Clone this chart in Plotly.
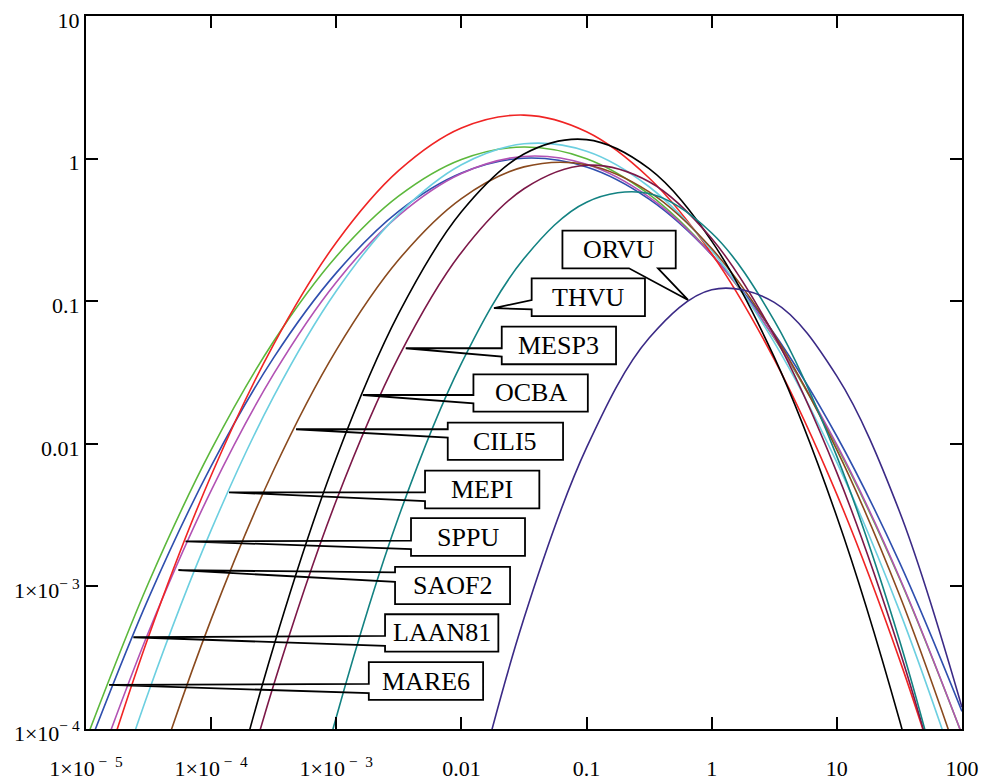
import numpy as np
import plotly.graph_objects as go

# ---------------- data ----------------
x_vals = [1e-5, 3.162e-5, 1e-4, 3.162e-4, 1e-3, 3.162e-3, 1e-2, 3.162e-2,
          0.1, 0.3162, 1, 3.162, 10, 31.62, 100]

sppu   = [2.06e-5, 4.46e-4, 6.0e-3, 0.0499, 0.258, 0.826, 1.64, 2.02,
          1.543, 0.731, 0.215, 0.0391, 4.42e-3, 3.09e-4, 1.34e-5]
mare6  = [8.39e-5, 1.06e-3, 9.06e-3, 0.0524, 0.206, 0.547, 0.986, 1.206,
          0.999, 0.561, 0.213, 0.0551, 9.62e-3, 1.14e-3, 9.16e-5]
mepi   = [8.47e-6, 1.82e-4, 2.48e-3, 0.0215, 0.118, 0.410, 0.906, 1.270,
          1.128, 0.635, 0.227, 0.0515, 7.41e-3, 6.76e-4, 3.91e-5]
laan81 = [6.75e-5, 8.28e-4, 6.97e-3, 0.0402, 0.158, 0.429, 0.794, 1.007,
          0.874, 0.520, 0.212, 0.0592, 0.0113, 1.48e-3, 1.33e-4]
saof2  = [3.25e-5, 4.79e-4, 4.70e-3, 0.0309, 0.136, 0.400, 0.787, 1.036,
          0.912, 0.537, 0.212, 0.0558, 9.86e-3, 1.16e-3, 9.18e-5]
cili5  = [1.14e-6, 3.27e-5, 5.87e-4, 6.55e-3, 0.0454, 0.196, 0.525, 0.875,
          0.907, 0.585, 0.234, 0.0585, 9.06e-3, 8.73e-4, 5.24e-5]
ocba   = [None, 1.06e-7, 9.04e-6, 3.81e-4, 7.96e-3, 0.0824, 0.424, 1.077,
          1.359, 0.850, 0.264, 0.0405, 3.08e-3, 1.16e-4, 2.18e-6]
mesp3  = [None, 7.6e-8, 5.45e-6, 2.04e-4, 4.00e-3, 0.0410, 0.220, 0.615,
          0.899, 0.689, 0.275, 0.0575, 6.28e-3, 3.59e-4, 1.07e-5]
thvu   = [None, None, 1.8e-8, 2.18e-6, 1.21e-4, 3.10e-3, 0.0366, 0.199,
          0.495, 0.569, 0.301, 0.0731, 8.17e-3, 4.21e-4, 9.95e-6]
orvu   = [None, None, None, None, None, 1.24e-7, 1.41e-5, 5.97e-4,
          9.40e-3, 0.0552, 0.1205, 0.0982, 0.0298, 3.37e-3, 1.42e-4]

series_names = ["MARE6", "LAAN81", "SAOF2", "SPPU", "MEPI", "CILI5",
                "OCBA", "MESP3", "THVU", "ORVU"]
series_values = [mare6, laan81, saof2, sppu, mepi, cili5, ocba, mesp3, thvu, orvu]

NB = "\u00a0"
x_tickvals = [1e-5, 1e-4, 1e-3, 0.01, 0.1, 1, 10, 100]
x_ticktext = [f"1×10<sup>{NB}−{NB}{NB}5</sup>", f"1×10<sup>{NB}−{NB}{NB}4</sup>",
              f"1×10<sup>{NB}−{NB}{NB}3</sup>", "0.01", "0.1", "1", "10", "100"]
y_tickvals = [1e-4, 1e-3, 0.01, 0.1, 1, 10]
y_ticktext = [f"1×10<sup>−{NB}4</sup>", f"1×10<sup>−{NB}3</sup>",
              "0.01", "0.1", "1", "10"]

# ---------------- styles ----------------
colors = {
    "MARE6": "#5cb83c", "LAAN81": "#2f4fae", "SAOF2": "#b252b4",
    "SPPU": "#f02424", "MEPI": "#6ccfe0", "CILI5": "#8a4a1e",
    "OCBA": "#000000", "MESP3": "#7c1848", "THVU": "#138282",
    "ORVU": "#3b2a86",
}
FONT = "Liberation Serif, Times New Roman, serif"

# callouts: tip (data), box in pixel offsets from tip (L, R, T, B; y up),
# notch offsets on the box edge facing the tip
callouts = [
    dict(label="ORVU",   x=0.647,   y=0.102,   box=(-125.6, -12.3, 69.3, 31.7), side="bottom", notch=(-59, -30)),
    dict(label="THVU",   x=0.0182,  y=0.0895,  box=(37.7, 151.0, 29.7, -8.0),   side="left", notch=(8.0, -1.3)),
    dict(label="MESP3",  x=3.59e-3, y=0.0468,  box=(96.0, 210.3, 21.6, -16.0),  side="left", notch=(0.0, -8.4)),
    dict(label="OCBA",   x=1.63e-3, y=0.0220,  box=(110.6, 225.0, 20.7, -16.7), side="left", notch=(0.0, -8.3)),
    dict(label="CILI5",  x=4.77e-4, y=0.01265, box=(151.7, 267.0, 6.6, -30.7),  side="left", notch=(0.0, -8.4)),
    dict(label="MEPI",   x=1.39e-4, y=4.57e-3, box=(196.0, 310.3, 21.6, -16.0), side="left", notch=(0.0, -8.7)),
    dict(label="SPPU",   x=6.24e-5, y=2.07e-3, box=(225.5, 339.5, 23.2, -14.5), side="left", notch=(0.8, -7.8)),
    dict(label="SAOF2",  x=5.47e-5, y=1.30e-3, box=(216.7, 331.7, 3.3, -34.0),  side="left", notch=(-2.3, -11.7)),
    dict(label="LAAN81", x=2.39e-5, y=4.40e-4, box=(251.7, 365.0, 23.0, -14.4), side="left", notch=(1.3, -8.7)),
    dict(label="MARE6",  x=1.53e-5, y=2.04e-4, box=(259.7, 374.0, 22.7, -15.0), side="left", notch=(1.0, -8.3)),
]

fig = go.Figure()
for name, vals in zip(series_names, series_values):
    fig.add_trace(go.Scatter(
        x=x_vals, y=vals, mode="lines", name=name,
        line=dict(color=colors[name], width=1.6, shape="spline"),
        showlegend=False, hoverinfo="skip"))

for c in callouts:
    L, R, T, B = c["box"]
    n1, n2 = c["notch"]
    if c["side"] == "left":
        outline = (f"M{L},{n1} L{L},{T} L{R},{T} L{R},{B} L{L},{B} "
                   f"L{L},{n2} L0,0 Z")
    else:
        outline = (f"M{n1},{B} L{L},{B} L{L},{T} L{R},{T} L{R},{B} "
                   f"L{n2},{B} L0,0 Z")
    box = f"M{L},{T} L{R},{T} L{R},{B} L{L},{B} Z"
    common = dict(type="path", xref="x", yref="y", xsizemode="pixel",
                  ysizemode="pixel", xanchor=c["x"], yanchor=c["y"], layer="above")
    fig.add_shape(path=box, fillcolor="white", line=dict(width=0), **common)
    fig.add_shape(path=outline, fillcolor="rgba(0,0,0,0)",
                  line=dict(color="black", width=1.8), **common)
    fig.add_annotation(
        x=np.log10(c["x"]), y=np.log10(c["y"]), xref="x", yref="y",
        text=c["label"], showarrow=False, xanchor="center", yanchor="middle",
        xshift=(L + R) / 2, yshift=(T + B) / 2,
        font=dict(family=FONT, size=26, color="black"))

axis_common = dict(
    type="log", showgrid=False, zeroline=False, showline=True,
    linecolor="black", linewidth=2, mirror="ticks", ticks="inside",
    ticklen=12, tickwidth=2, tickcolor="black", automargin=False,
    ticklabeloverflow="allow",
    tickfont=dict(family=FONT, size=22, color="black"))

fig.update_xaxes(range=[-5, 2.0002], tickvals=x_tickvals, ticktext=x_ticktext,
                 ticklabelstandoff=19, **axis_common)
fig.update_yaxes(range=[-4, 1.0002], tickvals=y_tickvals, ticktext=y_ticktext,
                 ticklabelshift=4, ticklabelstandoff=0, **axis_common)

# the page body adds an 8 px margin, so the margins are reduced by 8 px
fig.update_layout(
    width=988, height=780,
    margin=dict(l=78, r=34, t=8, b=59, pad=0, autoexpand=False),
    paper_bgcolor="white", plot_bgcolor="white",
    font=dict(family=FONT, color="black"),
)

fig.write_html("out.html")
